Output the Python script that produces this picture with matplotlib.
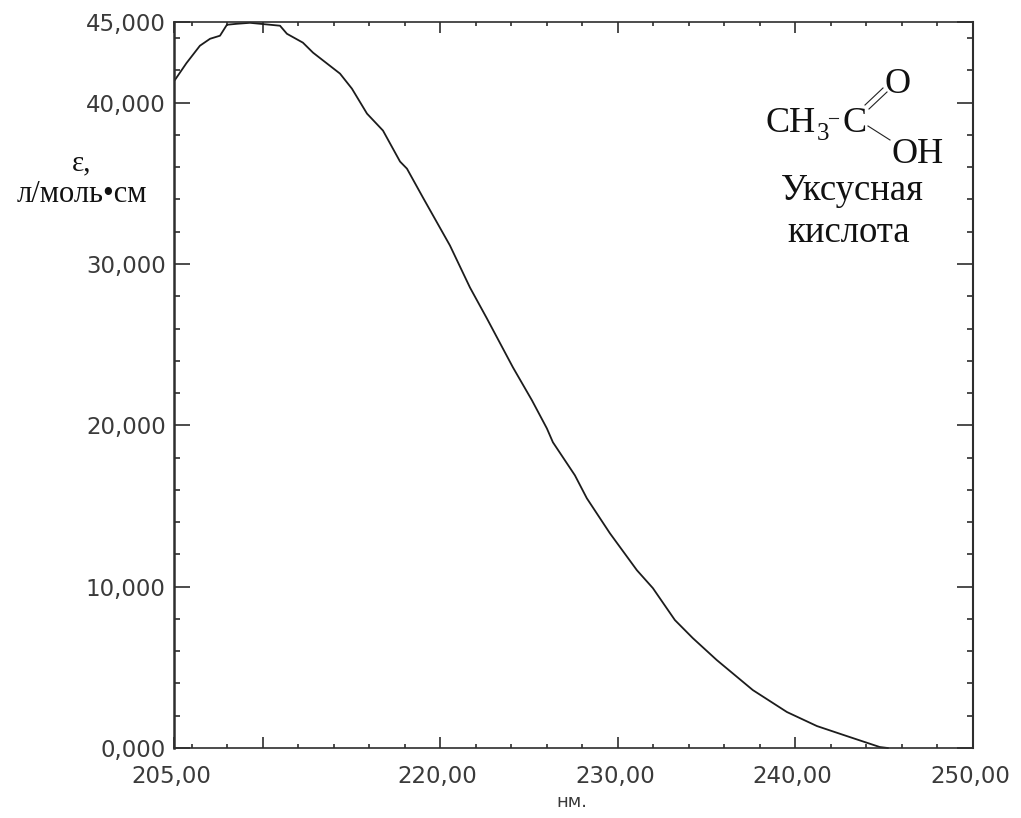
import matplotlib
matplotlib.use("Agg")
import matplotlib.pyplot as plt
from matplotlib.lines import Line2D
from matplotlib.ticker import FixedLocator
from matplotlib.transforms import ScaledTranslation

# values
wavelength = [205.06, 205.7, 206.46, 207.03, 207.59, 207.98, 208.55, 209.28, 209.84, 210.97,
              211.36, 212.26, 212.83, 214.35, 215.02, 215.87, 216.77, 217.73, 218.12, 219.02,
              220.54, 221.67, 222.62, 224.09, 225.16, 226.0, 226.34, 227.58, 228.25, 229.55,
              231.07, 231.97, 233.21, 234.22, 235.57, 237.6, 239.52, 241.21, 242.89, 244.75, 245.2]
epsilon = [41420, 42450, 43530, 43960, 44150, 44830, 44890, 44950, 44890, 44770,
           44270, 43720, 43100, 41800, 40870, 39320, 38270, 36350, 35910, 34120,
           31150, 28540, 26630, 23590, 21550, 19810, 18950, 16900, 15480, 13310,
           11020, 9910, 7930, 6810, 5450, 3590, 2230, 1360, 740, 60, 0]

x_major = [205, 210, 220, 230, 240, 250]
x_labels = ["205,00", "", "220,00", "230,00", "240,00", "250,00"]
x_minor = [206, 208, 212, 214, 216, 218, 222, 224, 226, 228, 232, 234, 236, 238, 242, 244, 246, 248]
y_major = [0, 10000, 20000, 30000, 40000, 45000]
y_labels = ["0,000", "10,000", "20,000", "30,000", "40,000", "45,000"]
y_minor = [2000, 4000, 6000, 8000, 12000, 14000, 16000, 18000, 22000, 24000, 26000, 28000,
           32000, 34000, 36000, 38000, 42000, 44000]

W, H = 1021, 818
dark = "#2e2e2e"
serif = "Liberation Serif"

fig = plt.figure(figsize=(W / 100, H / 100), dpi=100)
ax = fig.add_axes([174 / W, (H - 748) / H, 799 / W, 726 / H])
ax.plot(wavelength, epsilon, color="#1c1c1c", lw=1.3, clip_on=False)
ax.set_xlim(205, 250)
ax.set_ylim(0, 45000)

ax.xaxis.set_major_locator(FixedLocator(x_major))
ax.set_xticklabels(x_labels)
ax.xaxis.set_minor_locator(FixedLocator(x_minor))
ax.yaxis.set_major_locator(FixedLocator(y_major))
ax.set_yticklabels(y_labels)
ax.yaxis.set_minor_locator(FixedLocator(y_minor))

ax.tick_params(axis="x", which="major", direction="in", top=True, length=8, width=1.2,
               color=dark, labelsize=16.5, labelcolor="#3a3a3a", pad=12)
ax.tick_params(axis="x", which="minor", direction="in", top=True, length=2.8, width=1.2, color=dark)
ax.tick_params(axis="y", which="major", direction="in", right=True, length=11.5, width=1.2,
               color=dark, labelsize=16.5, labelcolor="#3a3a3a", pad=6)
ax.tick_params(axis="y", which="minor", direction="in", right=True, length=4.5, width=1.2, color=dark)

# x labels sit a little left of their ticks
shift = ScaledTranslation(-3 / 100, 0, fig.dpi_scale_trans)
for tick in ax.xaxis.get_majorticklabels():
    tick.set_transform(tick.get_transform() + shift)

for side in ax.spines:
    ax.spines[side].set_color(dark)
    ax.spines[side].set_linewidth(1.2)
ax.spines["left"].set_linewidth(1.8)
ax.spines["right"].set_linewidth(1.5)


def px_text(x, y, s, **kw):
    fig.text(x / W, 1 - y / H, s, **kw)


def px_line(x0, y0, x1, y1):
    fig.add_artist(Line2D([x0 / W, x1 / W], [1 - y0 / H, 1 - y1 / H], color="#222222", lw=0.8))


px_text(572, 802, "нм.", fontsize=13, color="#3a3a3a", ha="center", va="center")
px_text(82, 163, "ε,", family=serif, fontsize=21, color="#111111", ha="center", va="center")
px_text(82, 195, "л/моль•см", family=serif, fontsize=22, color="#111111", ha="center", va="center")

# formula of the acid
px_text(765, 132, "CH", family=serif, fontsize=26, color="#111111", ha="left", va="baseline")
px_text(817, 140, "3", family=serif, fontsize=18, color="#111111", ha="left", va="baseline")
px_text(855, 132, "C", family=serif, fontsize=26, color="#111111", ha="center", va="baseline")
px_text(898, 93, "O", family=serif, fontsize=26, color="#111111", ha="center", va="baseline")
px_text(918, 163, "OH", family=serif, fontsize=26, color="#111111", ha="center", va="baseline")
px_line(829, 118, 838, 118)
px_line(865, 105, 883, 88)
px_line(869, 109, 887, 92)
px_line(868, 126, 890, 140)
px_text(852, 200, "Уксусная", family=serif, fontsize=26.5, color="#111111", ha="center", va="baseline")
px_text(849, 242, "кислота", family=serif, fontsize=26.5, color="#111111", ha="center", va="baseline")

fig.savefig("out.png", dpi=100)
